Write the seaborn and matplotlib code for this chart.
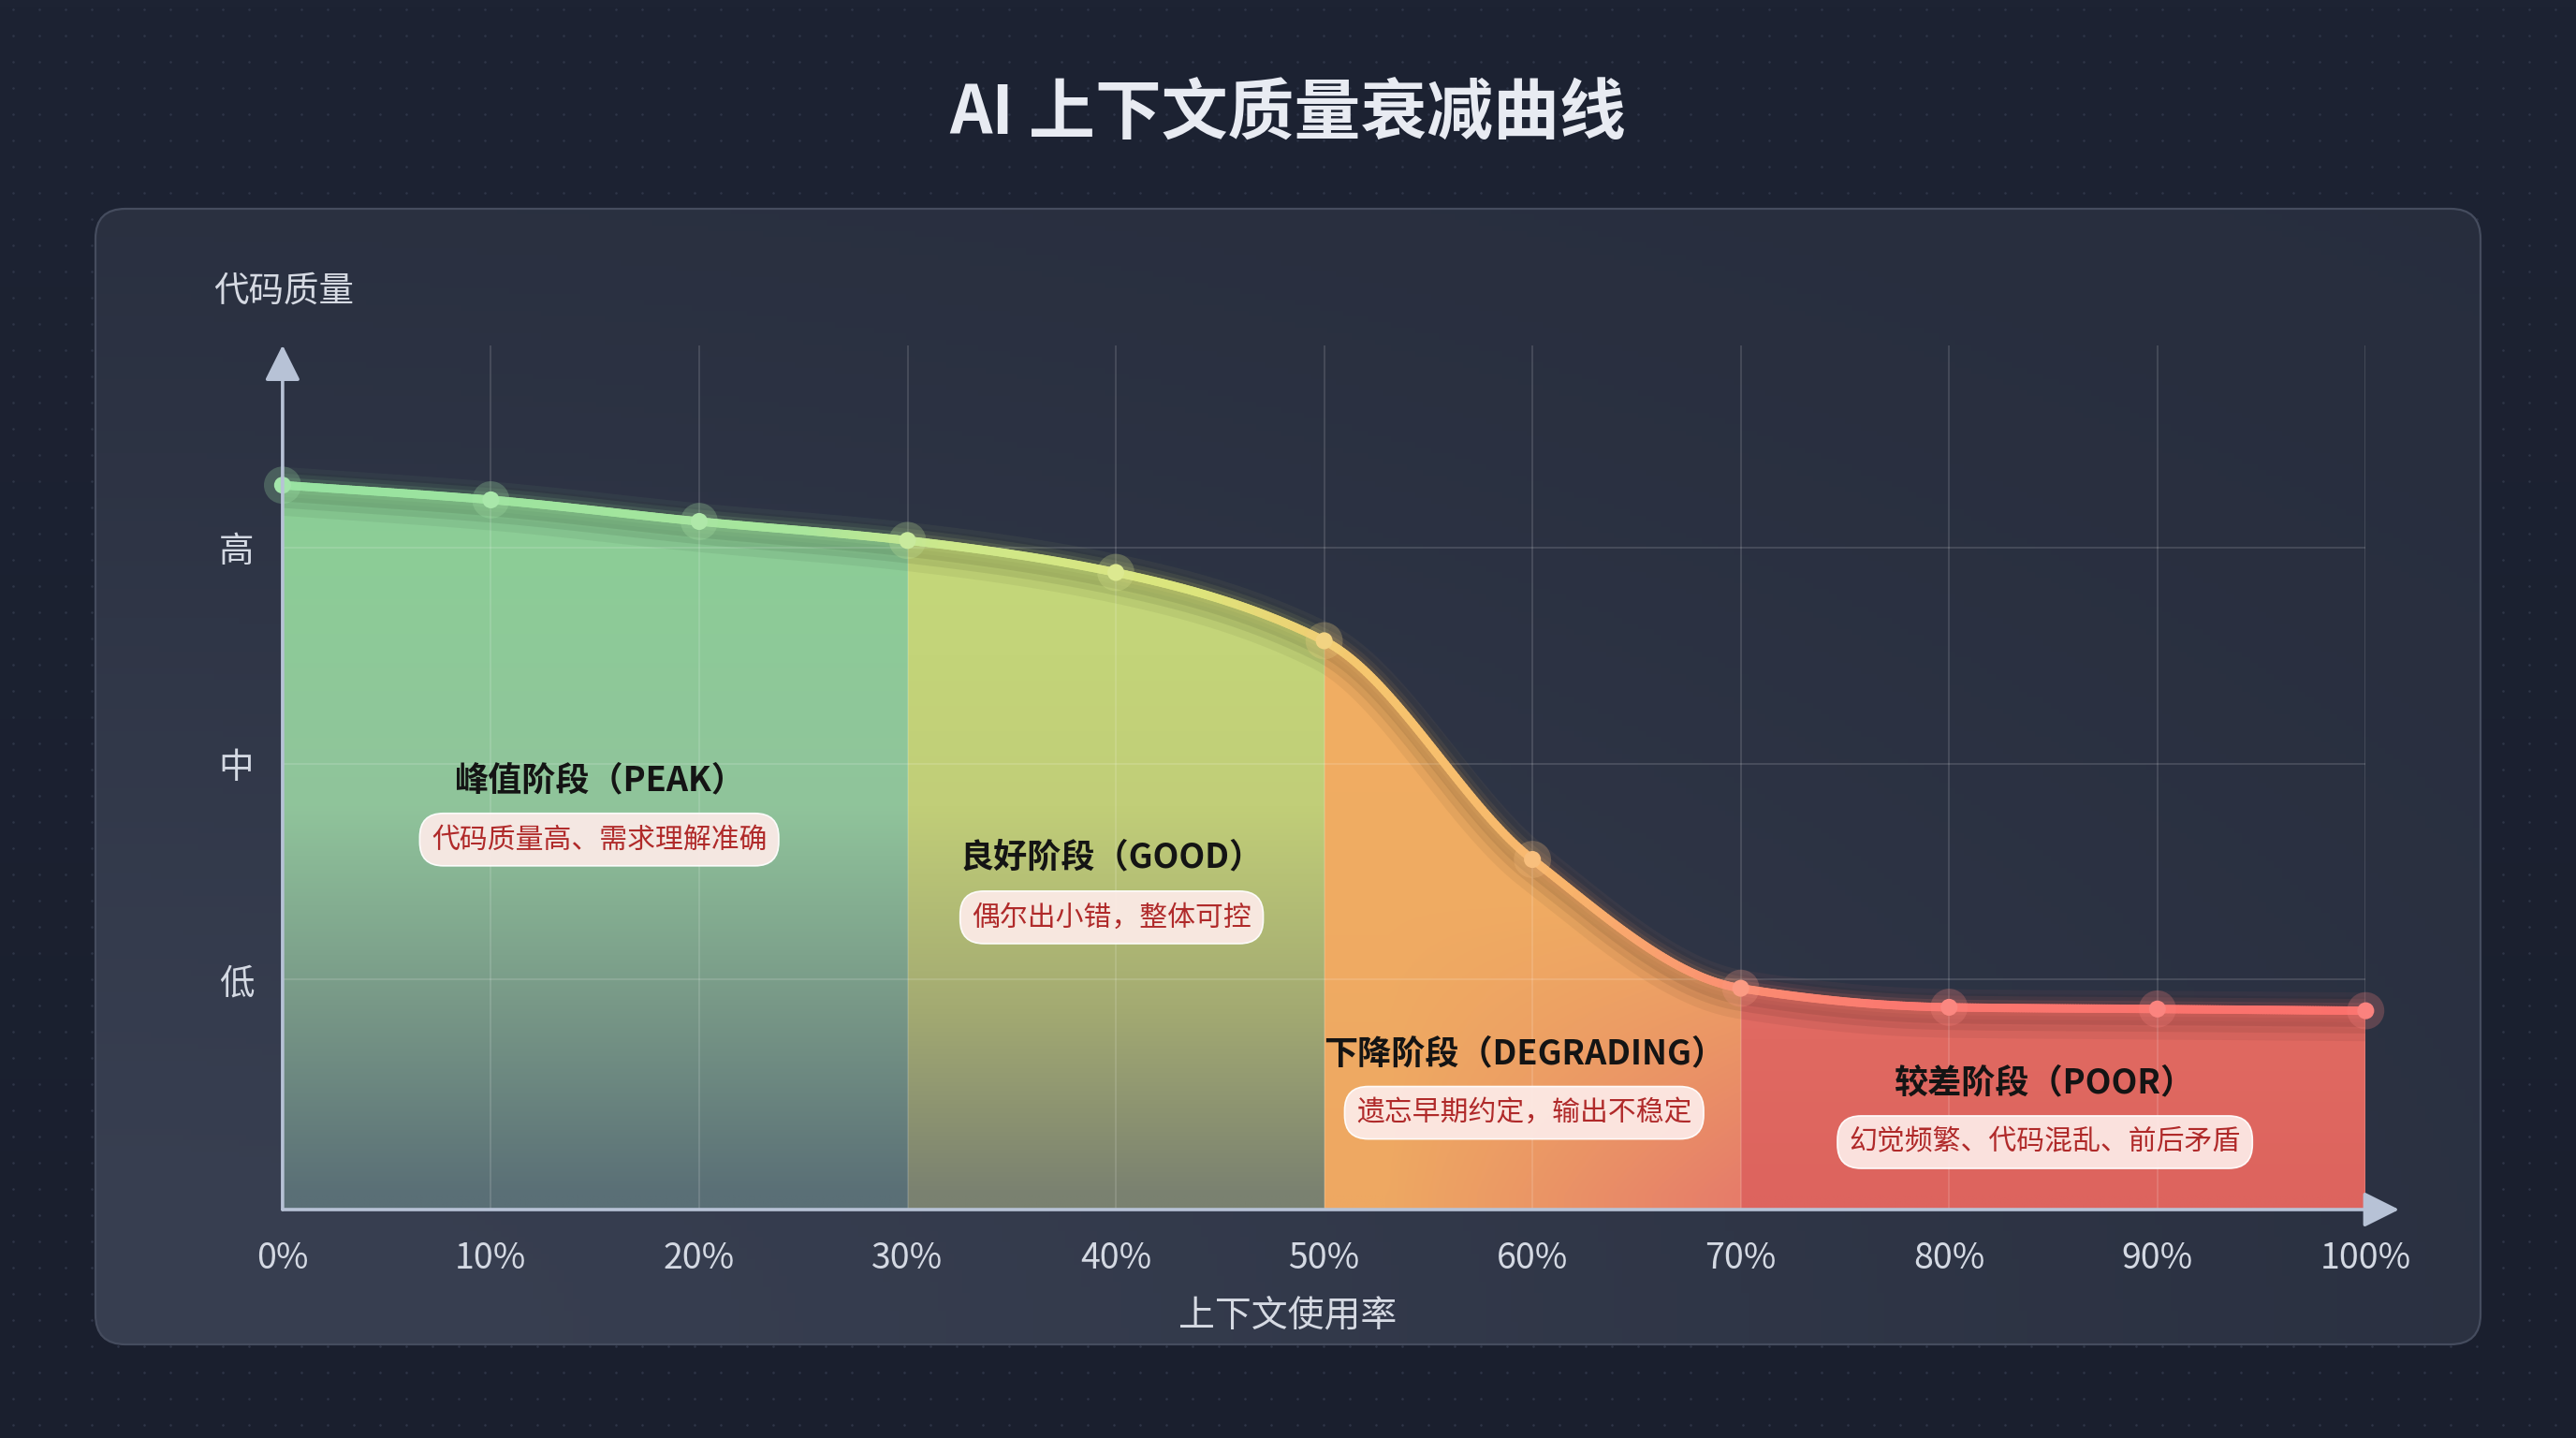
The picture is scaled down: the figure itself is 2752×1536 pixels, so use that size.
import numpy as np
import pandas as pd
import matplotlib
matplotlib.use("Agg")
import matplotlib.pyplot as plt
import seaborn as sns
from matplotlib.patches import FancyBboxPatch, Polygon
from matplotlib.collections import LineCollection
from matplotlib.colors import LinearSegmentedColormap, to_rgb
from matplotlib.bezier import BezierSegment
from matplotlib import transforms

# --- data ---
usage = [0, 10, 20, 30, 40, 50, 60, 70, 80, 90, 100]
quality = [82.2, 80.5, 78.0, 75.8, 72.1, 64.2, 38.9, 24.0, 21.8, 21.6, 21.4]
x_labels = [f"{v}%" for v in usage]
y_ticks = [25, 50, 75]
y_labels = ["低", "中", "高"]
phase_bounds = [0, 30, 50, 70, 100]
phase_names = ["峰值阶段（PEAK）", "良好阶段（GOOD）", "下降阶段（DEGRADING）", "较差阶段（POOR）"]
phase_notes = ["代码质量高、需求理解准确", "偶尔出小错，整体可控", "遗忘早期约定，输出不稳定", "幻觉频繁、代码混乱、前后矛盾"]

df = pd.DataFrame({"usage": usage, "quality": quality})

sns.set_theme(style="dark")
plt.rcParams["font.family"] = ["Noto Sans CJK SC", "DejaVu Sans"]
plt.rcParams["axes.unicode_minus"] = False

W, H = 2752, 1536
YMIN, YMAX = -1.6, 98.4
N_SEG = 80


def smooth_curve(xs, ys, n=N_SEG):
    # monotone cubic through the points, drawn as bezier segments
    xs = np.asarray(xs, float)
    ys = np.asarray(ys, float)
    d = np.diff(ys) / np.diff(xs)
    m = np.zeros(len(xs))
    m[0], m[-1] = d[0], d[-1]
    for i in range(1, len(xs) - 1):
        if d[i - 1] * d[i] <= 0:
            m[i] = 0
        else:
            m[i] = 2 / (1 / d[i - 1] + 1 / d[i])
    out = []
    for i in range(len(xs) - 1):
        h = xs[i + 1] - xs[i]
        cp = np.array([[xs[i], ys[i]],
                       [xs[i] + h / 3, ys[i] + m[i] * h / 3],
                       [xs[i + 1] - h / 3, ys[i + 1] - m[i + 1] * h / 3],
                       [xs[i + 1], ys[i + 1]]])
        t = np.linspace(0, 1, n)
        out.append(BezierSegment(cp)(t))
    return out


def grad_stops(yv, stops):
    ys = [s[0] for s in stops]
    cols = np.array([to_rgb(s[1]) for s in stops])
    return np.stack([np.interp(yv, ys, cols[:, k]) for k in range(3)], axis=-1)


fig = plt.figure(figsize=(W / 100, H / 100), dpi=100)

# ---- background with dots and the panel ----
ax_bg = fig.add_axes([0, 0, 1, 1], zorder=0)
ax_bg.set_xlim(0, W)
ax_bg.set_ylim(0, H)
ax_bg.axis("off")
bg = np.linspace(0, 1, 200)[:, None, None] * np.ones((200, 2, 3))
bg = (1 - bg) * np.array(to_rgb("#1a1f2e")) + bg * np.array(to_rgb("#1d2333"))
ax_bg.imshow(bg, extent=(0, W, 0, H), origin="lower", aspect="auto", zorder=0)
gx, gy = np.meshgrid(np.arange(14, W, 28), np.arange(14, H, 28))
ax_bg.scatter(gx.ravel(), gy.ravel(), s=3.5, color="#2e3547", linewidths=0, zorder=1)

px0, px1, py0, py1 = 102, 2650, 100, 1313
panel = FancyBboxPatch((px0, py0), px1 - px0, py1 - py0,
                       boxstyle="round,pad=0,rounding_size=32",
                       fc="none", ec="#454c5e", lw=1.6, zorder=3)
ax_bg.add_patch(panel)
u, v = np.meshgrid(np.linspace(0, 1, 300), np.linspace(0, 1, 200))
wgt = np.exp(-((u * 1.2) ** 2 + (v * 1.3) ** 2))[..., None]
pimg = (1 - wgt) * np.array(to_rgb("#272d3d")) + wgt * np.array(to_rgb("#383f51"))
im = ax_bg.imshow(pimg, extent=(px0, px1, py1, py0), aspect="auto", zorder=2)
im.set_clip_path(panel)

# ---- main chart ----
ax = fig.add_axes([172 / 1568, 1 - 736 / 875, 1268 / 1568, 526 / 875], zorder=2)
ax.set_facecolor("none")
ax.set_xlim(0, 100)
ax.set_ylim(YMIN, YMAX)
for s in ax.spines.values():
    s.set_visible(False)

pieces = smooth_curve(usage, quality)
pts = np.vstack(pieces)
cx, cy = pts[:, 0], pts[:, 1]

area = Polygon([(0, YMIN)] + list(zip(cx, cy)) + [(100, YMIN)], closed=True,
               transform=ax.transData, fc="none", ec="none")
ax.add_patch(area)

yy = np.linspace(YMIN, YMAX, 400)
fills = [
    [(0, "#5a6f76"), (22, "#789887"), (45, "#90c49b"), (85, "#8bd095")],
    [(0, "#7a8170"), (22, "#a4ab72"), (45, "#c1ce78"), (80, "#c5da7a")],
    [(0, "#eea862"), (70, "#f1af63")],
    [(0, "#dd645e"), (18, "#e06961"), (30, "#e4726b")],
]
for i in range(4):
    a, b = phase_bounds[i], phase_bounds[i + 1]
    col = grad_stops(yy, fills[i])[:, None, :] * np.ones((1, 120, 1))
    if i == 2:
        xx = np.linspace(a, b, 120)
        wx = np.clip((xx - 53) / 17, 0, 1)[None, :]
        wy = np.clip((34 - yy) / 34, 0, 1)[:, None]
        w = (wx * wy)[..., None]
        col = (1 - w) * col + w * np.array(to_rgb("#e67c6a"))
    fim = ax.imshow(col, extent=(a, b, YMIN, YMAX), origin="lower", aspect="auto", zorder=1)
    fim.set_clip_path(area)

# grid on top of fills
for x in usage[1:]:
    ax.plot([x, x], [YMIN, YMAX], color="white", alpha=0.14, lw=1.3, zorder=3)
ax.hlines(y_ticks, 0, 100, color="white", alpha=0.14, lw=1.3, zorder=3)

line_cmap = LinearSegmentedColormap.from_list("q", [
    (0.0, "#96e2a0"), (0.25, "#a8e69c"), (0.32, "#cde88a"), (0.44, "#dde57c"),
    (0.52, "#f6c66e"), (0.62, "#f8b36b"), (0.70, "#fb8e72"), (0.78, "#fb776f"), (1.0, "#fb716c")])

# soft shadow under the curve (single path so alpha does not stack)
shadow_tr = transforms.offset_copy(ax.transData, fig=fig, x=0, y=-9, units="dots")
for lw, al in [(34, 0.05), (22, 0.07), (12, 0.08)]:
    ax.plot(cx, cy, color="black", alpha=al, lw=lw, transform=shadow_tr,
            solid_capstyle="butt", zorder=2.5)

# glow, one path per data interval
for p in pieces:
    c = line_cmap(p[:, 0].mean() / 100)
    for lw, al in [(28, 0.05), (18, 0.08), (12, 0.12)]:
        ax.plot(p[:, 0], p[:, 1], color=c, alpha=al, lw=lw, solid_capstyle="butt",
                zorder=4, clip_on=False)

segs = np.stack([pts[:-1], pts[1:]], axis=1)
seg_cols = line_cmap(((cx[:-1] + cx[1:]) / 2) / 100)
ax.add_collection(LineCollection(segs, colors=seg_cols, linewidths=6.5,
                                 capstyle="round", joinstyle="round", zorder=5, clip_on=False))

# markers with halos
pal = {}
for x in usage:
    c = np.array(line_cmap(x / 100)[:3])
    pal[x] = tuple(c * 0.88 + 0.12)
sns.scatterplot(data=df, x="usage", y="quality", hue="usage", palette=pal, s=820, alpha=0.25,
                edgecolor="none", legend=False, zorder=6, clip_on=False, ax=ax)
sns.scatterplot(data=df, x="usage", y="quality", hue="usage", palette=pal, s=170,
                edgecolor="none", legend=False, zorder=7, clip_on=False, ax=ax)

# axes arrows
axis_col = "#b7c2d6"
for tip in [(1.016, 0), (0, 1.0)]:
    ax.annotate("", xy=tip, xytext=(0, 0), xycoords="axes fraction",
                arrowprops=dict(arrowstyle="-|>,head_length=0.9,head_width=0.45", color=axis_col,
                                lw=2.6, mutation_scale=26, shrinkA=0, shrinkB=0), zorder=8,
                annotation_clip=False)

ax.set_xticks(usage)
ax.set_xticklabels(x_labels)
ax.set_yticks(y_ticks)
ax.set_yticklabels(y_labels)
ax.tick_params(axis="x", length=0, pad=24, labelsize=27, labelcolor="#d4d9e3")
ax.tick_params(axis="y", length=0, pad=22, labelsize=27, labelcolor="#d4d9e3")
ax.set_xlabel("")
ax.set_ylabel("")
ax.grid(False)

# phase annotations
label_pos = [(15.2, 48.0, 41.2), (39.8, 39.1, 32.2), (59.6, 16.4, 9.6), (84.6, 13.0, 6.2)]
for (lx, ty, ny), name, note in zip(label_pos, phase_names, phase_notes):
    ax.text(lx, ty, name, ha="center", va="center", fontsize=26, fontweight="bold",
            color="#141414", zorder=9)
    ax.text(lx, ny, note, ha="center", va="center", fontsize=21.5, color="#b02a2a", zorder=9,
            bbox=dict(boxstyle="round,pad=0.42,rounding_size=0.85", fc="#fdebe8",
                      ec="#ffffff", lw=1.2, alpha=0.93))

# titles and axis names
fig.text(0.5, 1 - 70 / 875, "AI 上下文质量衰减曲线", ha="center", va="center",
         fontsize=51, fontweight="bold", color="#e8ebf2")
fig.text(172.5 / 1568, 1 - 177 / 875, "代码质量", ha="center", va="center",
         fontsize=27, color="#d6dae3")
fig.text(0.5, 1 - 801 / 875, "上下文使用率", ha="center", va="center",
         fontsize=28, color="#d6dae3")

fig.savefig("out.png", dpi=100)
